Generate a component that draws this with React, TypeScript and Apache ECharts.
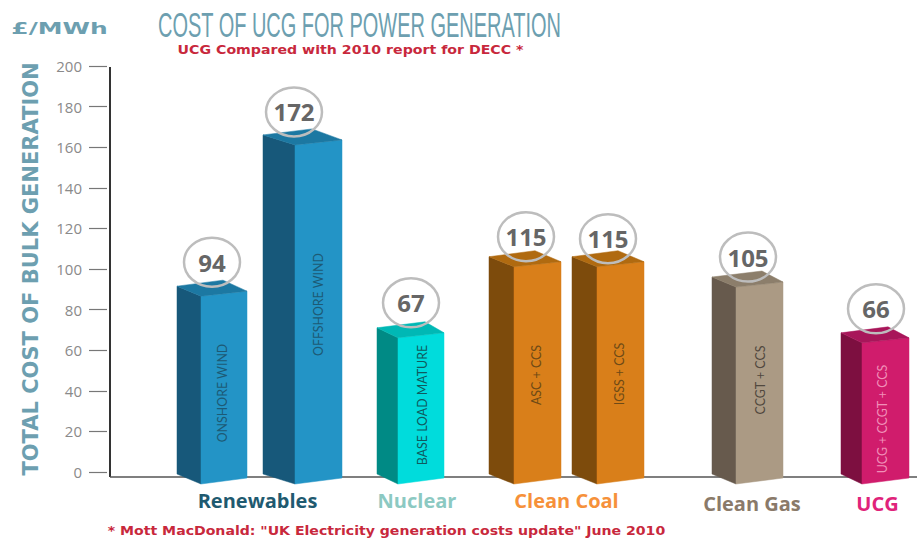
import React, { useEffect, useRef } from "react";
import * as echarts from "echarts";

// ---- data ----
const categories = ["ONSHORE WIND", "OFFSHORE WIND", "BASE LOAD MATURE", "ASC + CCS", "IGSS + CCS", "CCGT + CCS", "UCG + CCGT + CCS"];
const groupOfBar = ["Renewables", "Renewables", "Nuclear", "Clean Coal", "Clean Coal", "Clean Gas", "UCG"];
// the values printed in the circles
const statedCosts = [94, 172, 67, 115, 115, 105, 66];
// the height each bar actually reaches on the axis (the artwork is not to scale)
const drawnHeights = [94.5, 169, 74, 109, 109, 99, 71.5];
const tickStep = 20;
const axisMax = 200;

const titleText = "COST OF UCG FOR POWER GENERATION";
const subtitleText = "UCG Compared with 2010 report for DECC *";
const unitText = "£/MWh";
const yAxisTitle = "TOTAL COST OF BULK GENERATION";
const footnoteText = '* Mott MacDonald: "UK Electricity generation costs update" June 2010';

// ---- layout and style ----
const W = 917;
const H = 538;
const GRID_LEFT = 107;
const GRID_TOP = 66;
const GRID_H = 406;

// left: left corner on the hidden position axis; f/b/r: front, back, right corners from left
// cx/cy: circle offset; tx: text offset from left; ty: text centre above the zero line
const shapes = [
  { left: 177, f: 24, b: 46, r: 70, cx: 35, cy: -18, tx: 45, ty: 79 },
  { left: 263, f: 32, b: 49, r: 79, cx: 31, cy: -17, tx: 55, ty: 167.5 },
  { left: 377, f: 21, b: 48, r: 67, cx: 34, cy: -19, tx: 45, ty: 67 },
  { left: 489, f: 25, b: 46, r: 72, cx: 37, cy: -14, tx: 47, ty: 97 },
  { left: 572, f: 25, b: 46, r: 72, cx: 36, cy: -12, tx: 47, ty: 98 },
  { left: 712, f: 24, b: 50, r: 71, cx: 36, cy: -14, tx: 48, ty: 92 },
  { left: 841, f: 21, b: 47, r: 68, cx: 35, cy: -18, tx: 41, ty: 53 },
];

const palette: Record<string, { side: string; front: string; top: string; text: string; group: string }> = {
  Renewables: { side: "#17587a", front: "#2394c6", top: "#1c78a2", text: "#1d5a75", group: "#1f5a70" },
  Nuclear: { side: "#008a85", front: "#00dcdc", top: "#00b8b5", text: "#0f5a5e", group: "#8cc9c2" },
  "Clean Coal": { side: "#7d4b0c", front: "#d97f1a", top: "#b06a10", text: "#6e4a16", group: "#f6913a" },
  "Clean Gas": { side: "#675a4d", front: "#ab9a84", top: "#8c7e6b", text: "#51483e", group: "#8a7a69" },
  UCG: { side: "#7d0f40", front: "#d01c6c", top: "#a8165a", text: "#f08fb8", group: "#e0237a" },
};

const groupLabels = [
  { name: "Renewables", x: 257.5, y: 500 },
  { name: "Nuclear", x: 417, y: 500 },
  { name: "Clean Coal", x: 566.5, y: 500 },
  { name: "Clean Gas", x: 752, y: 503 },
  { name: "UCG", x: 877.5, y: 503 },
];

const TEAL = "#6d9fb0";
const RED = "#c8283c";

function renderBar(params: any, api: any) {
  const i = params.dataIndex;
  const s = shapes[i];
  const c = palette[groupOfBar[i]];
  const [x, y] = api.coord([api.value(0), api.value(1)]);
  const [, y0] = api.coord([api.value(0), 0]);
  const L = x, F = x + s.f, B = x + s.b, R = x + s.r;
  const poly = (points: number[][], fill: string) => ({
    type: "polygon",
    shape: { points },
    style: { fill, stroke: fill, lineWidth: 0.5 },
  });
  return {
    type: "group",
    children: [
      poly([[L, y + 6], [F, y + 16], [F, y0 + 12], [L, y0 + 2]], c.side),
      poly([[F, y + 16], [R, y + 11], [R, y0 + 6], [F, y0 + 12]], c.front),
      poly([[L, y + 6], [B, y], [R, y + 11], [F, y + 16]], c.top),
      {
        type: "text",
        x: x + s.tx,
        y: y0 - s.ty,
        rotation: Math.PI / 2,
        style: {
          text: categories[i],
          x: 0,
          y: 0,
          align: "center",
          verticalAlign: "middle",
          fill: c.text,
          font: '12.4px "Lato", sans-serif',
        },
      },
      {
        type: "ellipse",
        shape: { cx: x + s.cx, cy: y + s.cy, rx: 28, ry: 24.5 },
        style: { fill: "none", stroke: "#bdbdbd", lineWidth: 2.5 },
      },
      {
        type: "text",
        x: x + s.cx,
        y: y + s.cy,
        style: {
          text: String(statedCosts[i]),
          x: 0,
          y: 0,
          align: "center",
          verticalAlign: "middle",
          fill: "#666666",
          font: 'bold 24px "Open Sans", sans-serif',
        },
      },
    ],
  };
}

function stretchedText(text: string, x: number, y: number, font: string, fill: string, scaleX: number, scaleY = 1) {
  return {
    type: "text",
    x,
    y,
    scaleX,
    scaleY,
    style: { text, x: 0, y: 0, align: "center", verticalAlign: "middle", font, fill },
  };
}

export default function App() {
  const ref = useRef<HTMLDivElement>(null);
  useEffect(() => {
    const chart = echarts.init(ref.current!, null, { renderer: "svg" });
    chart.setOption({
      animation: false,
      backgroundColor: "#ffffff",
      grid: { left: GRID_LEFT, top: GRID_TOP, width: W - GRID_LEFT, height: GRID_H, containLabel: false },
      xAxis: { type: "value", min: GRID_LEFT, max: W, show: false },
      yAxis: {
        type: "value",
        min: 0,
        max: axisMax,
        interval: tickStep,
        name: yAxisTitle,
        nameLocation: "middle",
        nameGap: 66,
        nameTextStyle: { color: TEAL, fontFamily: "DejaVu Sans", fontWeight: "bold", fontSize: 21 },
        axisLine: { show: false },
        axisTick: { show: true, length: 18, lineStyle: { color: "#777777", width: 1.2 } },
        axisLabel: { color: "#8a8a8a", fontFamily: "Open Sans", fontSize: 15, margin: 25 },
        splitLine: { show: false },
      },
      series: [
        {
          type: "custom",
          name: "Cost",
          z: 5,
          clip: false,
          renderItem: renderBar,
          encode: { x: 0, y: 1 },
          data: categories.map((_, i) => [shapes[i].left, drawnHeights[i]]),
        },
      ],
      graphic: [
        { type: "line", z: 1, shape: { x1: 110, y1: 67, x2: 110, y2: 477 }, style: { stroke: "#333333", lineWidth: 2 } },
        { type: "line", z: 1, shape: { x1: 110, y1: 477, x2: W, y2: 477 }, style: { stroke: "#555555", lineWidth: 1.5 } },
        stretchedText(titleText, 359.5, 25, '32px "Liberation Sans Narrow", sans-serif', TEAL, 0.624, 1.1),
        stretchedText(unitText, 59.5, 29, 'bold 15px "DejaVu Sans", sans-serif', TEAL, 1.66),
        stretchedText(subtitleText, 350.5, 50, 'bold 12px "DejaVu Sans", sans-serif', RED, 1.18),
        stretchedText(footnoteText, 386.5, 531, 'bold 12px "DejaVu Sans", sans-serif', RED, 1.175),
        ...groupLabels.map((g) =>
          stretchedText(g.name, g.x, g.y, 'bold 20px "Open Sans", sans-serif', palette[g.name].group, 1),
        ),
      ],
    });
    return () => chart.dispose();
  }, []);
  return <div ref={ref} style={{ position: "absolute", left: 0, top: 0, width: W, height: H }} />;
}
